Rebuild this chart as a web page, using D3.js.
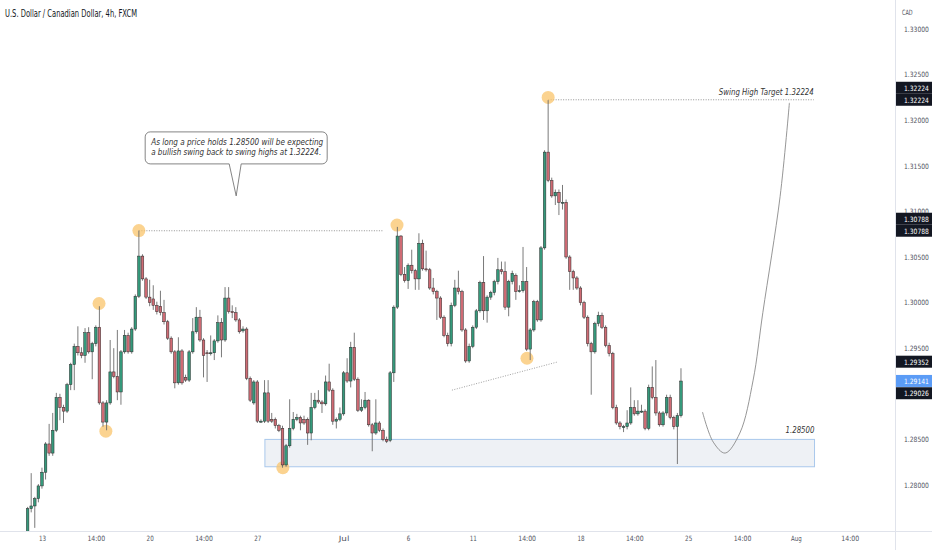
<!DOCTYPE html>
<html>
<head>
<meta charset="utf-8">
<script src="https://cdn.jsdelivr.net/npm/d3@7"></script>
<style>
  html, body { margin: 0; padding: 0; background: #fff; }
  svg { display: block; }
  .axis text { font-family: "DejaVu Sans Condensed", "Liberation Sans", sans-serif; font-size: 7.3px; fill: #50535e; }
  .note { font-family: "DejaVu Sans Condensed", "Liberation Sans", sans-serif; font-style: italic; fill: #333; }
</style>
</head>
<body>
<svg id="chart" width="932" height="550"></svg>
<script>
// 4h candles, USDCAD, 13 Jun - 22 Jul
var opens = [
  1.2740,1.2774,1.2777,1.2785,1.2799,1.2814,1.2845,1.2835,1.2860,1.2896,
  1.2885,1.2881,1.2910,1.2932,1.2952,1.2945,1.2942,1.2967,1.2946,1.2955,
  1.2973,1.2890,1.2869,1.2890,1.2924,1.2919,1.2902,1.2946,1.2964,1.2946,
  1.2971,1.3007,1.3051,1.3026,1.3006,1.3004,1.2997,1.2996,1.2989,1.2979,
  1.2961,1.2946,1.2912,1.2947,1.2918,1.2915,1.2946,1.2968,1.2984,1.2959,
  1.2945,1.2945,1.2945,1.2958,1.2978,1.2959,1.3005,1.2990,1.2989,1.2981,
  1.2969,1.2971,1.2917,1.2890,1.2913,1.2870,1.2870,1.2901,1.2872,1.2872,
  1.2865,1.2862,1.2822,1.2843,1.2862,1.2872,1.2874,1.2872,1.2872,1.2857,
  1.2885,1.2893,1.2891,1.2889,1.2913,1.2904,1.2870,1.2872,1.2878,1.2923,
  1.2914,1.2951,1.2916,1.2882,1.2885,1.2893,1.2866,1.2857,1.2868,1.2860,
  1.2850,1.2849,1.2923,1.2995,1.3073,1.3031,1.3024,1.3041,1.3035,1.3026,
  1.3065,1.3037,1.3036,1.3016,1.3012,1.3005,1.2984,1.2964,1.2955,1.2997,
  1.3016,1.3012,1.2970,1.2936,1.2952,1.2973,1.2991,1.3022,1.2991,1.3006,
  1.3011,1.3023,1.3036,1.3034,1.2995,1.3023,1.3030,1.3013,1.3013,1.3023,
  1.2949,1.2970,1.3001,1.2981,1.3060,1.3165,1.3134,1.3117,1.3121,1.3110,
  1.3110,1.3050,1.3034,1.3027,1.3016,1.3000,1.2984,1.2955,1.2946,1.2977,
  1.2986,1.2973,1.2953,1.2944,1.2885,1.2868,1.2864,1.2864,1.2868,1.2885,
  1.2878,1.2881,1.2881,1.2862,1.2907,1.2896,1.2879,1.2866,1.2879,1.2896,
  1.2874,1.2864,1.2876
];
var highs = [
  1.2776,1.2813,1.2787,1.2801,1.2819,1.2847,1.2867,1.2879,1.2901,1.2900,
  1.2888,1.2912,1.2934,1.2955,1.2974,1.2951,1.2972,1.2973,1.2957,1.2975,
  1.2996,1.2892,1.2893,1.2959,1.2950,1.2970,1.2948,1.2970,1.2967,1.2973,
  1.3009,1.3079,1.3053,1.3028,1.3025,1.3019,1.3001,1.3013,1.3003,1.2981,
  1.2963,1.2948,1.2962,1.2949,1.2921,1.2948,1.2983,1.2995,1.2992,1.2961,
  1.2948,1.2964,1.2960,1.2986,1.2983,1.3017,1.3017,1.2997,1.2995,1.2983,
  1.2974,1.2973,1.2919,1.2915,1.2915,1.2872,1.2915,1.2915,1.2879,1.2874,
  1.2867,1.2865,1.2845,1.2894,1.2880,1.2878,1.2876,1.2876,1.2874,1.2901,
  1.2901,1.2904,1.2893,1.2920,1.2933,1.2906,1.2874,1.2885,1.2925,1.2939,
  1.2957,1.2967,1.2918,1.2894,1.2902,1.2894,1.2868,1.2894,1.2870,1.2862,
  1.2853,1.2925,1.2997,1.3083,1.3074,1.3039,1.3043,1.3058,1.3037,1.3076,
  1.3069,1.3057,1.3038,1.3027,1.3014,1.3007,1.2986,1.2967,1.3000,1.3025,
  1.3035,1.3014,1.2972,1.2955,1.2975,1.2993,1.3024,1.3051,1.3008,1.3013,
  1.3025,1.3049,1.3045,1.3045,1.3025,1.3035,1.3032,1.3019,1.3061,1.3039,
  1.2972,1.3003,1.3003,1.3062,1.3167,1.3222,1.3137,1.3124,1.3124,1.3129,
  1.3113,1.3052,1.3036,1.3029,1.3018,1.3002,1.2986,1.2957,1.2979,1.2990,
  1.2989,1.2975,1.2956,1.2946,1.2888,1.2870,1.2866,1.2882,1.2907,1.2893,
  1.2893,1.2888,1.2883,1.2910,1.2930,1.2937,1.2881,1.2881,1.2899,1.2899,
  1.2876,1.2879,1.2928
];
var lows = [
  1.2734,1.2770,1.2753,1.2781,1.2796,1.2806,1.2832,1.2832,1.2858,1.2871,
  1.2868,1.2879,1.2904,1.2904,1.2942,1.2939,1.2934,1.2944,1.2916,1.2952,
  1.2888,1.2864,1.2860,1.2888,1.2917,1.2893,1.2888,1.2944,1.2944,1.2944,
  1.2969,1.3005,1.3024,1.3004,1.2996,1.2992,1.2987,1.2986,1.2976,1.2959,
  1.2944,1.2906,1.2910,1.2910,1.2913,1.2913,1.2944,1.2966,1.2957,1.2918,
  1.2913,1.2942,1.2937,1.2956,1.2940,1.2957,1.2988,1.2983,1.2979,1.2966,
  1.2967,1.2915,1.2891,1.2888,1.2868,1.2868,1.2868,1.2868,1.2868,1.2862,
  1.2858,1.2819,1.2820,1.2841,1.2860,1.2870,1.2860,1.2866,1.2844,1.2849,
  1.2883,1.2889,1.2879,1.2887,1.2902,1.2866,1.2862,1.2870,1.2876,1.2912,
  1.2907,1.2914,1.2880,1.2880,1.2883,1.2864,1.2837,1.2855,1.2858,1.2848,
  1.2846,1.2847,1.2913,1.2993,1.3029,1.3022,1.3015,1.3032,1.3014,1.3014,
  1.3035,1.3034,1.3014,1.3009,1.2981,1.2982,1.2962,1.2952,1.2952,1.2995,
  1.3009,1.2968,1.2934,1.2934,1.2950,1.2971,1.2989,1.2981,1.2978,1.3003,
  1.3008,1.3020,1.3031,1.2992,1.2985,1.3020,1.3003,1.3011,1.3011,1.2947,
  1.2937,1.2968,1.2979,1.2979,1.3058,1.3132,1.3115,1.3107,1.3096,1.3102,
  1.3048,1.3014,1.3014,1.3014,1.2997,1.2982,1.2952,1.2899,1.2944,1.2974,
  1.2971,1.2951,1.2941,1.2883,1.2866,1.2861,1.2858,1.2861,1.2866,1.2876,
  1.2876,1.2879,1.2860,1.2860,1.2894,1.2876,1.2864,1.2864,1.2876,1.2872,
  1.2861,1.2823,1.2874
];
var closes = [
  1.2774,1.2777,1.2785,1.2799,1.2814,1.2845,1.2835,1.2860,1.2896,1.2885,
  1.2881,1.2910,1.2932,1.2952,1.2945,1.2942,1.2967,1.2946,1.2955,1.2973,
  1.2890,1.2869,1.2890,1.2924,1.2919,1.2902,1.2946,1.2964,1.2946,1.2971,
  1.3007,1.3051,1.3026,1.3006,1.3000,1.2997,1.2990,1.2989,1.2979,1.2961,
  1.2946,1.2912,1.2947,1.2912,1.2915,1.2946,1.2968,1.2984,1.2959,1.2942,
  1.2944,1.2945,1.2958,1.2978,1.2959,1.3005,1.2990,1.2989,1.2981,1.2968,
  1.2971,1.2917,1.2893,1.2913,1.2870,1.2870,1.2901,1.2870,1.2870,1.2865,
  1.2860,1.2822,1.2843,1.2862,1.2872,1.2874,1.2868,1.2868,1.2857,1.2885,
  1.2893,1.2891,1.2889,1.2913,1.2904,1.2870,1.2872,1.2878,1.2923,1.2914,
  1.2951,1.2916,1.2882,1.2885,1.2893,1.2866,1.2857,1.2868,1.2860,1.2850,
  1.2848,1.2923,1.2995,1.3073,1.3031,1.3024,1.3041,1.3035,1.3026,1.3065,
  1.3037,1.3036,1.3016,1.3012,1.3005,1.2984,1.2964,1.2955,1.2997,1.3016,
  1.3012,1.2970,1.2936,1.2952,1.2973,1.2991,1.3022,1.2991,1.3006,1.3011,
  1.3023,1.3036,1.3034,1.2995,1.3023,1.3032,1.3012,1.3013,1.3023,1.2949,
  1.2970,1.3001,1.2981,1.3060,1.3165,1.3134,1.3117,1.3121,1.3110,1.3110,
  1.3050,1.3034,1.3027,1.3016,1.3000,1.2984,1.2955,1.2946,1.2977,1.2986,
  1.2973,1.2953,1.2944,1.2885,1.2868,1.2864,1.2864,1.2868,1.2885,1.2878,
  1.2881,1.2881,1.2862,1.2907,1.2896,1.2879,1.2866,1.2879,1.2896,1.2874,
  1.2864,1.2876,1.2914
];

// time axis: bar index of each label
var dateIdx = [4, 19, 34, 49, 64, 88, 106, 124, 139, 154, 169, 184, 199, 214, 229];
var dateLabels = ["13", "14:00", "20", "14:00", "27", "Jul", "6", "11", "14:00", "18", "14:00", "25", "14:00", "Aug", "14:00"];

var priceTicks = [1.28, 1.285, 1.29, 1.295, 1.30, 1.305, 1.31, 1.315, 1.32, 1.325, 1.33];

// swing points (bar index, price)
var swingIdx = [19.9, 21.8, 31, 71.1, 102.9, 139.1, 145];
var swingPrice = [1.2999, 1.2859, 1.3079, 1.2819, 1.3085, 1.2939, 1.3225];

// projected path
var projIdx = [188, 191, 194.3, 198.4, 202.1, 204.8, 209.6, 212.2];
var projPrice = [1.2880, 1.2847, 1.2835, 1.2857, 1.2915, 1.2989, 1.3116, 1.3219];

// axis price tags
var tagPrices = [1.32224, 1.32224, 1.30788, 1.30788, 1.29352, 1.29141, 1.29026];
var tagShift = [-1, 0, -1, 0, 0, 0, 0.15];
var tagColors = ["#131722", "#131722", "#131722", "#131722", "#131722", "#5b9cf6", "#131722"];

var svg = d3.select("#chart"),
  W = 932, H = 550,
  axisX = 895, axisY = 531,
  charW = 3.55; // narrow glyph advance used for the small labels

var x = d3.scaleLinear().domain([0, 240]).range([27.6, 27.6 + 240 * 3.59]);
var y = d3.scaleLinear().domain([1.28, 1.33]).range([485, 29]);

var fmt = d3.format(".5f");

function squeeze(sel) {
  sel.attr("lengthAdjust", "spacingAndGlyphs")
    .attr("textLength", function() { return this.textContent.length * charW; });
}

svg.append("rect").attr("width", W).attr("height", H).attr("fill", "#fff");

svg.append("clipPath").attr("id", "plot")
  .append("rect").attr("x", 0).attr("y", 0).attr("width", axisX).attr("height", axisY);

var plot = svg.append("g").attr("clip-path", "url(#plot)");

// support zone
plot.append("rect")
  .attr("x", x(66.1)).attr("y", y(1.285))
  .attr("width", x(219.2) - x(66.1)).attr("height", y(1.2820) - y(1.285))
  .attr("fill", "#eef1f5").attr("stroke", "#a9c8ec").attr("stroke-width", 1);

// dotted levels
plot.append("line")
  .attr("x1", x(31)).attr("x2", x(99)).attr("y1", y(1.30788)).attr("y2", y(1.30788))
  .attr("stroke", "#777").attr("stroke-width", 0.8).attr("stroke-dasharray", "1,1.5");
plot.append("line")
  .attr("x1", x(145)).attr("x2", x(219)).attr("y1", y(1.32224)).attr("y2", y(1.32224))
  .attr("stroke", "#777").attr("stroke-width", 0.8).attr("stroke-dasharray", "1,1.5");
plot.append("line")
  .attr("x1", x(118.2)).attr("x2", x(147.7)).attr("y1", y(1.2904)).attr("y2", y(1.2935))
  .attr("stroke", "#888").attr("stroke-width", 0.8).attr("stroke-dasharray", "1,1.5");

// swing highlights
plot.selectAll("circle.swing")
  .data(swingIdx)
  .join("circle")
  .attr("class", "swing")
  .attr("cx", d => x(d))
  .attr("cy", (d, k) => y(swingPrice[k]))
  .attr("r", 6.5)
  .attr("fill", "#f9c46b")
  .attr("opacity", 0.75);

// candles
var bars = d3.range(opens.length);
var up = i => closes[i] >= opens[i];

plot.append("g").selectAll("line")
  .data(bars)
  .join("line")
  .attr("x1", i => x(i)).attr("x2", i => x(i))
  .attr("y1", i => y(highs[i])).attr("y2", i => y(lows[i]))
  .attr("stroke", "#6b6b6b").attr("stroke-width", 0.9);

plot.append("g").selectAll("rect")
  .data(bars)
  .join("rect")
  .attr("x", i => x(i) - 1.3)
  .attr("width", 2.6)
  .attr("y", i => y(Math.max(opens[i], closes[i])))
  .attr("height", i => Math.max(1, Math.abs(y(opens[i]) - y(closes[i]))))
  .attr("fill", i => up(i) ? "#35997b" : "#cf6b74")
  .attr("stroke", "#2a2a2a").attr("stroke-width", 0.5);

// projection curve
plot.append("path")
  .datum(projIdx)
  .attr("d", d3.line().x(d => x(d)).y((d, k) => y(projPrice[k])).curve(d3.curveCatmullRom))
  .attr("fill", "none").attr("stroke", "#8a8a8a").attr("stroke-width", 0.9);

// labels on the drawing
plot.append("text").attr("class", "note")
  .attr("x", x(219) - 95).attr("y", y(1.32224) - 5)
  .attr("font-size", 8.5)
  .attr("textLength", 95).attr("lengthAdjust", "spacingAndGlyphs")
  .text("Swing High Target 1.32224");
plot.append("text").attr("class", "note")
  .attr("x", x(219.2) - 29).attr("y", y(1.285) - 6)
  .attr("font-size", 8.5)
  .attr("textLength", 29).attr("lengthAdjust", "spacingAndGlyphs")
  .text("1.28500");

// callout
var tipX = x(58.1), tipY = y(1.3117);
var bx0 = tipX - 91, bx1 = tipX + 91, by0 = tipY - 64, by1 = tipY - 32, r = 5;
var callout = d3.path();
callout.moveTo(bx0 + r, by0);
callout.lineTo(bx1 - r, by0);
callout.arcTo(bx1, by0, bx1, by0 + r, r);
callout.lineTo(bx1, by1 - r);
callout.arcTo(bx1, by1, bx1 - r, by1, r);
callout.lineTo(tipX + 5, by1);
callout.lineTo(tipX, tipY);
callout.lineTo(tipX - 7, by1);
callout.lineTo(bx0 + r, by1);
callout.arcTo(bx0, by1, bx0, by1 - r, r);
callout.lineTo(bx0, by0 + r);
callout.arcTo(bx0, by0, bx0 + r, by0, r);
callout.closePath();
plot.append("path").attr("d", callout.toString())
  .attr("fill", "#fff").attr("stroke", "#666").attr("stroke-width", 0.8);
plot.append("text").attr("class", "note")
  .attr("x", tipX - 85).attr("y", by0 + 13).attr("font-size", 9)
  .attr("textLength", 172).attr("lengthAdjust", "spacingAndGlyphs")
  .text("As long a price holds 1.28500 will be expecting");
plot.append("text").attr("class", "note")
  .attr("x", tipX - 85).attr("y", by0 + 23).attr("font-size", 9)
  .attr("textLength", 170).attr("lengthAdjust", "spacingAndGlyphs")
  .text("a bullish swing back to swing highs at 1.32224.");

// axes
svg.append("line").attr("x1", axisX + 0.5).attr("x2", axisX + 0.5).attr("y1", 0).attr("y2", H)
  .attr("stroke", "#e0e3eb");
svg.append("line").attr("x1", 0).attr("x2", W).attr("y1", axisY + 0.5).attr("y2", axisY + 0.5)
  .attr("stroke", "#e0e3eb");

var yAxis = svg.append("g").attr("class", "axis")
  .attr("transform", "translate(" + axisX + ",0)")
  .call(d3.axisRight(y).tickValues(priceTicks).tickFormat(fmt).tickSize(0).tickPadding(9));
yAxis.select(".domain").remove();
yAxis.selectAll("text").call(squeeze);

var xAxis = svg.append("g").attr("class", "axis")
  .attr("transform", "translate(0," + axisY + ")")
  .call(d3.axisBottom(x).tickValues(dateIdx).tickFormat((d, k) => dateLabels[k]).tickSize(0).tickPadding(5));
xAxis.select(".domain").remove();
xAxis.selectAll("text").call(squeeze);

svg.append("g").attr("class", "axis")
  .append("text")
  .attr("x", 902).attr("y", 15)
  .text("CAD")
  .call(squeeze);

// price tags
var tags = svg.append("g").attr("class", "axis").selectAll("g")
  .data(tagPrices)
  .join("g")
  .attr("transform", (d, k) => "translate(" + axisX + "," + (y(d) + tagShift[k] * 12) + ")");
tags.append("rect")
  .attr("x", 1).attr("y", -6).attr("width", 37).attr("height", 12)
  .attr("fill", (d, k) => tagColors[k]);
tags.append("text")
  .attr("x", 9).attr("y", 3)
  .style("fill", "#fff")
  .text(d => fmt(d))
  .call(squeeze);

// title
svg.append("text")
  .attr("x", 5).attr("y", 17)
  .attr("font-family", "DejaVu Sans Condensed, Liberation Sans, sans-serif")
  .attr("font-size", 10).attr("fill", "#131722")
  .attr("textLength", 132).attr("lengthAdjust", "spacingAndGlyphs")
  .text("U.S. Dollar / Canadian Dollar, 4h, FXCM");
</script>
</body>
</html>
